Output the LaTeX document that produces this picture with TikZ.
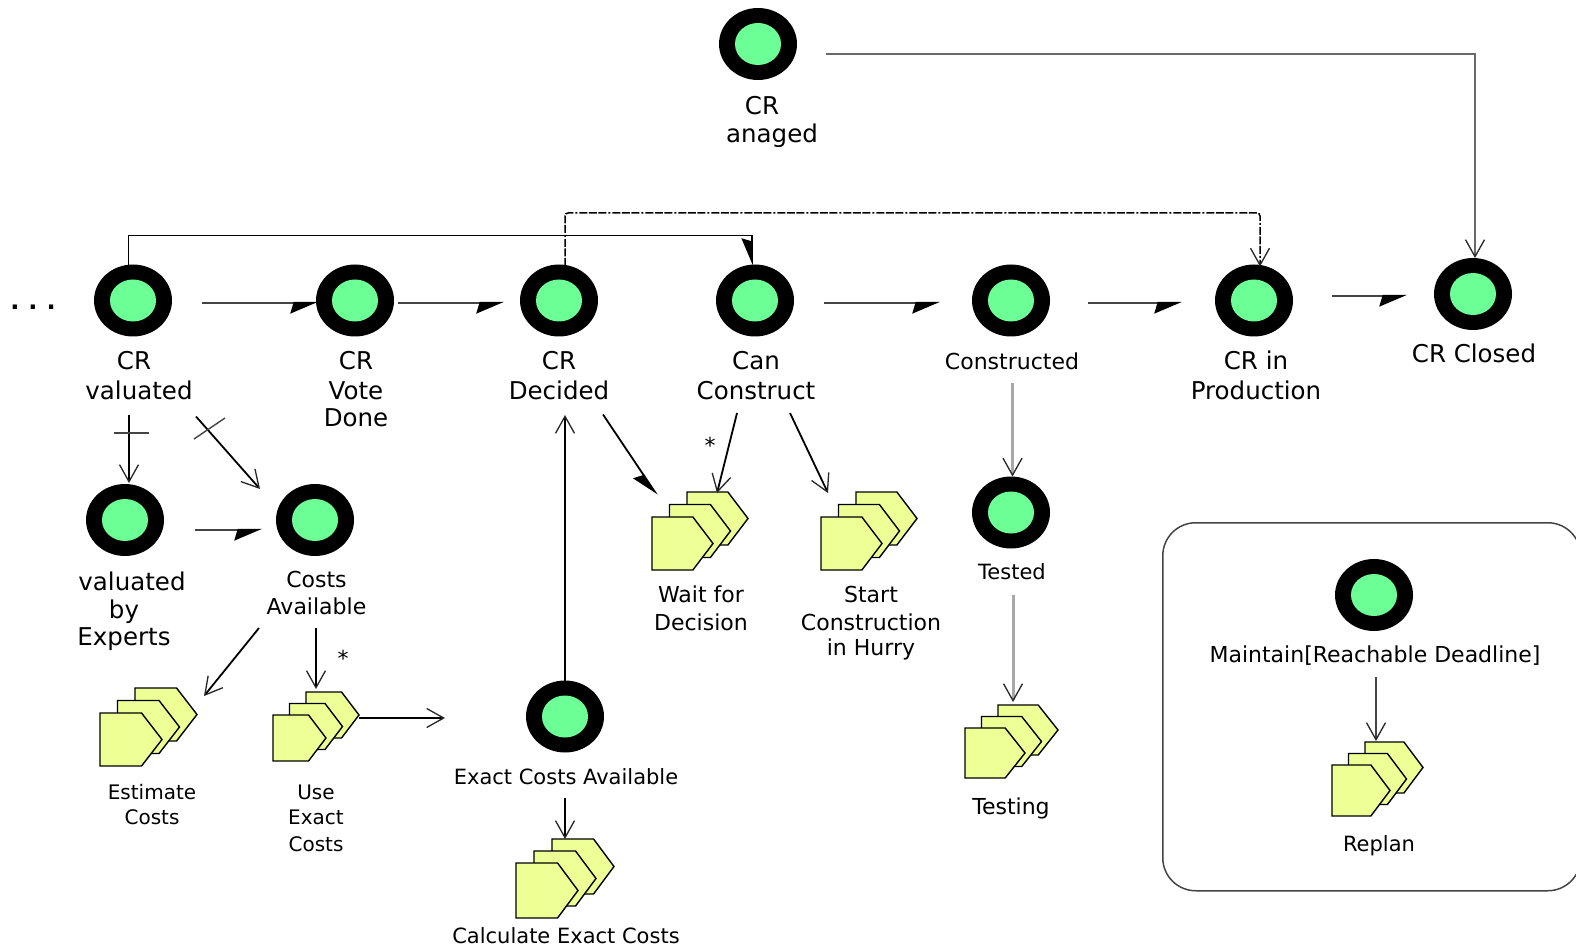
\documentclass[tikz,border=0pt]{standalone}
\usepackage{fontspec}
\setmainfont{DejaVu Sans}
\usetikzlibrary{arrows.meta,shapes.geometric}
\definecolor{goalgreen}{HTML}{6CFF96}
\definecolor{taskyellow}{HTML}{EEFF96}
\definecolor{softgrey}{HTML}{A8A8A8}
\definecolor{midgrey}{HTML}{444444}
\tikzset{
  goalnode/.style={ellipse,fill=black,minimum width=78pt,minimum height=72pt,inner sep=0pt,outer sep=0pt,
    path picture={\fill[goalgreen] (path picture bounding box.center) ellipse (23pt and 21pt);}},
  lab/.style={anchor=north,inner sep=0pt,align=center,font=\fontsize{21}{30}\selectfont},
  labmid/.style={lab,font=\fontsize{22}{30}\selectfont},
  labbig/.style={lab,font=\fontsize{24.5}{30}\selectfont},
  labcost/.style={lab,font=\fontsize{22}{27}\selectfont},
  smalllab/.style={lab,font=\fontsize{20}{26}\selectfont},
  pent/.style={draw=black,fill=taskyellow,line width=1.4pt,line join=miter},
  taskbox/.style={inner sep=0pt,anchor=north west},
  barb/.style={-{Straight Barb[length=17pt,width=19pt,line width=1.3pt,color=black!85]}},
  half/.style={-{Stealth[harpoon,swap,length=25pt,width=21pt,inset=3pt,color=black]}},
  dark/.style={draw=black,line width=1.8pt},
  soft/.style={draw=softgrey,line width=3pt},
  mid/.style={draw=midgrey,line width=2.2pt},
  tick/.style={draw=midgrey,line width=1.4pt},
  dashline/.style={draw=black,line width=1.5pt,dash pattern=on 8pt off 1.5pt on 8pt off 1.5pt on 8pt off 2pt on 2pt off 2pt,rounded corners=3pt}
}
% name, x, y of the front pentagon's top left, w, h, dx, dy
\newcommand{\taskstack}[7]{%
  \foreach \k in {1,0.5,0}{%
    \path[pent] ({#2+\k*#6},{#3-\k*#7}) -- ++({#4*0.67},0) -- ++({#4*0.33},{#5*0.5}) -- ++({-#4*0.33},{#5*0.5}) -- ++({-#4*0.67},0) -- cycle;
  }%
  \node[taskbox,minimum width={(#4+#6)*1pt},minimum height={(#5+#7)*1pt}] (#1) at (#2,{#3-#7}) {};
}
\newcommand{\lbl}[5][lab]{\node[#1] (#2) at (#3,{#4-20}) {\rule{0pt}{20pt}#5};}
\begin{document}
\begin{tikzpicture}[x=1pt,y=-1pt]
\useasboundingbox (0,0) rectangle (1576,949);
\fill[white] (0,0) rectangle (1576,949);
% group box
\node[draw=midgrey,line width=1.5pt,rounded corners=33pt,minimum width=418pt,minimum height=368pt,inner sep=0pt,anchor=north west] (group) at (1162,522) {};
% goals
\node[goalnode] (anaged) at (758,44) {};
\node[goalnode] (valuated) at (133,300.5) {};
\node[goalnode] (vote) at (355,300.5) {};
\node[goalnode] (decided) at (559,300.5) {};
\node[goalnode] (can) at (755,300.5) {};
\node[goalnode] (constructed) at (1011,300.5) {};
\node[goalnode] (production) at (1254,300.5) {};
\node[goalnode] (closed) at (1473,294) {};
\node[goalnode] (experts) at (125,520) {};
\node[goalnode] (costs) at (315,520) {};
\node[goalnode] (tested) at (1011,512.5) {};
\node[goalnode] (exact) at (565,716.5) {};
\node[goalnode] (maintain) at (1374,595) {};
% tasks
\taskstack{wait}{652}{517}{61}{53}{35}{25}
\taskstack{start}{821}{517}{61}{53}{35}{25}
\taskstack{testing}{965}{728}{60}{50}{33}{23}
\taskstack{replan}{1332}{765}{58}{51}{33}{23}
\taskstack{calc}{516}{863}{62}{55}{36}{24}
\taskstack{estimate}{100}{713}{62}{53}{35}{25}
\taskstack{use}{273}{715}{53}{46}{33}{23}
% labels
\lbl[labbig]{lanaged}{772}{114}{CR\hspace*{20pt}\\[-2pt]anaged}
\lbl[labbig]{lvaluated}{139}{369}{CR\hspace*{10pt}\\valuated}
\lbl[labbig]{lvote}{356}{369}{CR\\Vote\\[-3pt]Done}
\lbl[labbig]{ldecided}{559}{369}{CR\\Decided}
\lbl[labbig]{lcan}{756}{369}{Can\\Construct}
\lbl[labmid]{lconstructed}{1012}{369}{Constructed}
\lbl[labbig]{lproduction}{1256}{369}{CR in\\Production}
\lbl[labbig]{lclosed}{1474}{362.5}{CR Closed}
\lbl[labbig]{lexperts}{124}{590}{\hspace*{16pt}valuated\\[-2pt]by\\[-3pt]Experts}
\lbl[labcost]{lcosts}{316.5}{587}{Costs\\Available}
\lbl[smalllab]{lestimate}{152}{799}{Estimate\\[-1pt]Costs}
\lbl[smalllab]{luse}{316}{799}{Use\\[-1pt]Exact\\[1pt]Costs}
\lbl{lexact}{566}{784}{Exact Costs Available}
\lbl{lcalc}{566}{943}{Calculate Exact Costs}
\lbl[labmid]{lwait}{701}{602.5}{Wait for\\[-2pt]Decision}
\lbl[labmid]{lstart}{871}{602.5}{Start\\[-2pt]Construction\\[-5pt]in Hurry}
\lbl{ltested}{1012}{579}{Tested}
\lbl[labmid]{ltesting}{1011}{814}{Testing}
\lbl[labmid]{lmaintain}{1375}{662}{Maintain[Reachable Deadline]}
\lbl{lreplan}{1379}{851}{Replan}
\node[inner sep=0pt,font=\fontsize{24}{24}\bfseries\selectfont] (dots) at (33,307) {.\hspace{9pt}.\hspace{9pt}.};
\node[inner sep=0pt,font=\fontsize{22}{22}\selectfont] (star1) at (343,658) {*};
\node[inner sep=0pt,font=\fontsize{22}{22}\selectfont] (star2) at (710,445) {*};
% connectors
\path[draw=midgrey!80,line width=2.4pt,barb] ([shift={(68,10)}]anaged.center) -| ([shift={(2,-36)}]closed.center);
\path[dark,half] ([shift={(-4.5,-35)}]valuated.center) -- ++(0,-30) -| ([shift={(-3,-35)}]can.center);
\path[dashline,barb] ([shift={(6,-34.5)}]decided.center) -- ++(0,-53) -| ([shift={(6,-34)}]production.center);
\path[mid,half] ([shift={(69,2.5)}]valuated.center) -- ([shift={(-37,2.5)}]vote.center);
\path[mid,half] ([shift={(43,2.5)}]vote.center) -- ([shift={(-55,2.5)}]decided.center);
\path[mid,half] ([shift={(69,2.5)}]can.center) -- ([shift={(-71,2.5)}]constructed.center);
\path[mid,half] ([shift={(77,2.5)}]constructed.center) -- ([shift={(-72,2.5)}]production.center);
\path[mid,half] ([shift={(78,-4.5)}]production.center) -- ([shift={(-66,2)}]closed.center);
\path[soft,barb] ([shift={(1.5,82.5)}]constructed.center) -- ([shift={(1.5,-36)}]tested.center);
\path[dark,barb] ([shift={(-18,112.5)}]can.center) -- ([shift={(65,1)}]wait.north west);
\path[dark,barb] ([shift={(35,112.5)}]can.center) -- ([shift={(7,1)}]start.north west);
\path[dark,half] ([shift={(44,114)}]decided.center) -- ([shift={(5,3)}]wait.north west);
\path[dark,barb] ([shift={(0,-36)}]exact.center) -- ([shift={(6,114.5)}]decided.center);
\path[dark,barb] ([shift={(-4,114)}]valuated.center) -- ([shift={(4,-37)}]experts.center);
\path[dark,barb] ([shift={(63,116)}]valuated.center) -- ([shift={(-55,-31)}]costs.center);
\path[mid,half] ([shift={(70,10)}]experts.center) -- ([shift={(-53,10)}]costs.center);
\path[dark,barb] ([shift={(-56,108)}]costs.center) -- ([shift={(104,8)}]estimate.north west);
\path[dark,barb] ([shift={(1,108)}]costs.center) -- ([shift={(43,-3)}]use.north west);
\path[dark,barb] ([shift={(86,26)}]use.north west) -- ([shift={(-120,1.5)}]exact.center);
\path[dark,barb] ([shift={(0,81.5)}]exact.center) -- ([shift={(49,0)}]calc.north west);
\path[soft,barb] ([shift={(2,82.5)}]tested.center) -- ([shift={(48,-3)}]testing.north west);
\path[mid,line width=1.6pt,barb] ([shift={(2,82)}]maintain.center) -- ([shift={(44,-1)}]replan.north west);
% guard ticks
\path[tick] ([shift={(-19,132.5)}]valuated.center) -- ++(35,0);
\path[tick] ([shift={(61,138.5)}]valuated.center) -- ++(31,-21);
\end{tikzpicture}
\end{document}
